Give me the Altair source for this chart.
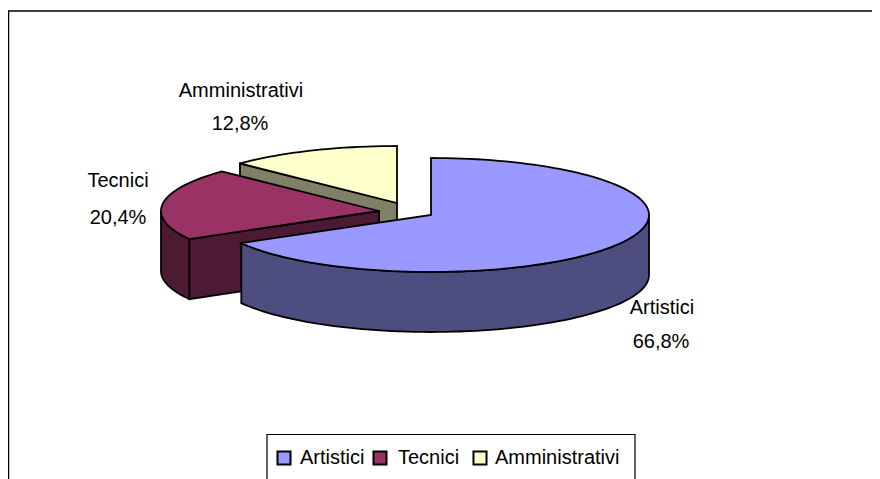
import math
import altair as alt
import pandas as pd

categories = ["Artistici", "Tecnici", "Amministrativi"]
shares = [66.8, 20.4, 12.8]
share_labels = ["66,8%", "20,4%", "12,8%"]
top_colors = ["#9999FF", "#993366", "#FFFFCC"]
side_colors = ["#4D4D80", "#4D1A33", "#808066"]

apex_x = [431, 379, 397]
apex_y = [215, 211, 203]
rx, ry, depth = 218, 57, 60
W, H = 864, 471
FONT = "Liberation Sans"
FONT_SIZE = 20

x_scale = alt.Scale(domain=[8, 8 + W], range=[0, W])
y_scale = alt.Scale(domain=[8, 8 + H], range=[0, H])
X = alt.X("x:Q", scale=x_scale, axis=None)
Y = alt.Y("y:Q", scale=y_scale, axis=None)
X2 = alt.X2("x2:Q")
Y2 = alt.Y2("y2:Q")


def pt(i, deg, dz=0):
    t = math.radians(deg)
    return (apex_x[i] + rx * math.sin(t), apex_y[i] - ry * math.cos(t) + dz)


def arc(i, a, b, dz=0):
    n = max(2, int(abs(b - a) / 2))
    return [pt(i, a + (b - a) * k / n, dz) for k in range(n + 1)]


def poly(points, fill):
    df = pd.DataFrame(points, columns=["x", "y"])
    df["o"] = range(len(df))
    return (
        alt.Chart(df)
        .mark_line(fill=fill, stroke="black", strokeWidth=1.8, interpolate="linear-closed", strokeJoin="miter")
        .encode(x=X, y=Y, order="o:Q")
    )


starts = []
acc = 0
for s in shares:
    starts.append(acc * 3.6)
    acc += s
ends = [st + s * 3.6 for st, s in zip(starts, shares)]

layers = []
# frame: left and top edges show, the rest runs off the page
frame = pd.DataFrame({"x": [8.5], "x2": [920], "y": [11], "y2": [560]})
layers.append(alt.Chart(frame).mark_rect(fill="white", stroke="black", strokeWidth=1.5).encode(x=X, x2=X2, y=Y, y2=Y2))

# Amministrativi: cut face then top
i = 2
a = (apex_x[i], apex_y[i])
e = pt(i, starts[i])
layers.append(poly([a, e, (e[0], e[1] + depth), (a[0], a[1] + depth)], side_colors[i]))
layers.append(poly([a] + arc(i, starts[i], ends[i]), top_colors[i]))

# Tecnici: outer wall, cut face, top
i = 1
a = (apex_x[i], apex_y[i])
s0 = pt(i, starts[i])
layers.append(poly([a, s0, (s0[0], s0[1] + depth), (a[0], a[1] + depth)], side_colors[i]))
layers.append(poly(arc(i, starts[i], 270) + arc(i, 270, starts[i], depth), side_colors[i]))
layers.append(poly([a] + arc(i, starts[i], ends[i]), top_colors[i]))

# Artistici: outer wall then top
i = 0
layers.append(poly(arc(i, 90, ends[i]) + arc(i, ends[i], 90, depth), side_colors[i]))
layers.append(poly([(apex_x[i], apex_y[i])] + arc(i, starts[i], ends[i]), top_colors[i]))

# data labels
name_x = [662, 118, 241]
name_y = [308, 181, 91]
pct_x = [661, 118, 240]
pct_y = [342, 218, 124]
labels = pd.DataFrame(
    {
        "x": name_x + pct_x,
        "y": name_y + pct_y,
        "t": categories + share_labels,
    }
)
layers.append(
    alt.Chart(labels)
    .mark_text(font=FONT, fontSize=FONT_SIZE, color="black", align="center", baseline="middle")
    .encode(x=X, y=Y, text="t:N")
)

# legend
box = pd.DataFrame({"x": [267], "x2": [635], "y": [434.5], "y2": [560]})
layers.append(alt.Chart(box).mark_rect(fill="white", stroke="black", strokeWidth=1.2).encode(x=X, x2=X2, y=Y, y2=Y2))
swatch_x = [284, 380, 480]
legend_text_x = [300, 398, 495]
legend_y = [458, 458, 458]
sw = pd.DataFrame({"x": swatch_x, "y": legend_y, "c": top_colors})
layers.append(
    alt.Chart(sw)
    .mark_point(shape="square", filled=True, size=170, stroke="black", strokeWidth=2, opacity=1)
    .encode(x=X, y=Y, fill=alt.Fill("c:N", scale=None))
)
lt = pd.DataFrame({"x": legend_text_x, "y": legend_y, "t": categories})
layers.append(
    alt.Chart(lt)
    .mark_text(font=FONT, fontSize=FONT_SIZE, color="black", align="left", baseline="middle")
    .encode(x=X, y=Y, text="t:N")
)

chart = (
    alt.layer(*layers)
    .properties(width=W, height=H, padding=0, autosize=alt.AutoSizeParams(type="none"), background="white")
    .configure_view(stroke=None)
)
chart.save("out.html", embed_options={"renderer": "svg", "actions": False})
